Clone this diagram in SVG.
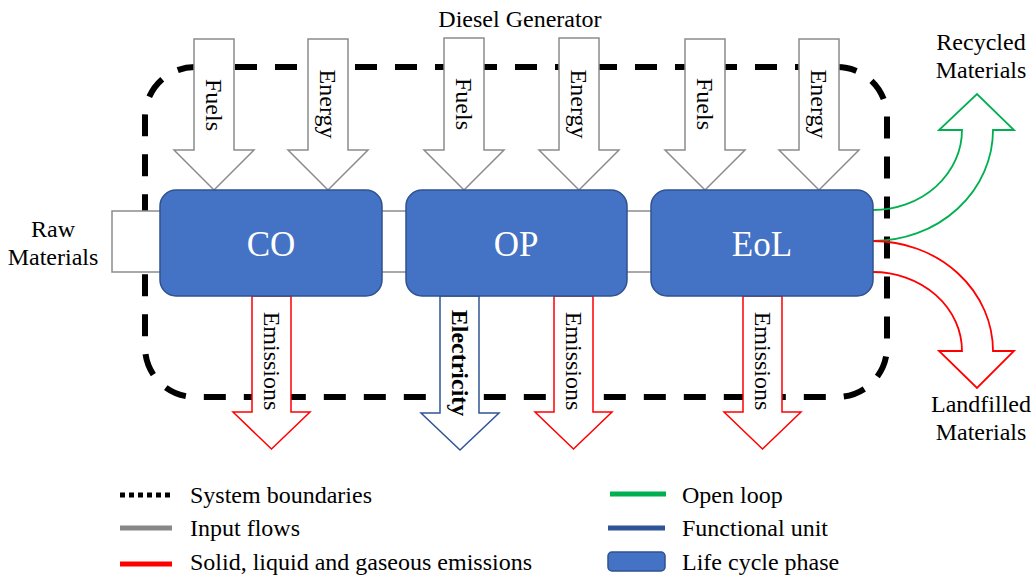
<svg xmlns="http://www.w3.org/2000/svg" width="1033" height="575" viewBox="0 0 1033 575">
<style>
text{font-family:'Liberation Serif','DejaVu Serif',serif;font-size:24px;fill:#000}
.gray{fill:#fff;stroke:#8C8C8C;stroke-width:1.5}
.red{fill:#fff;stroke:#FF0000;stroke-width:1.5}
.blue{fill:#fff;stroke:#2F5597;stroke-width:1.5}
.box{fill:#4472C4;stroke:#2F528F;stroke-width:1.5}
.lbl{fill:#fff;font-size:35px;text-anchor:middle}
.mid{text-anchor:middle}
</style>
<rect width="1033" height="575" fill="#fff"/>
<g id="boundary">
<rect x="145" y="67" width="742" height="330" rx="50" ry="50" fill="none" stroke="#000" stroke-width="6" stroke-dasharray="22 18"/>
</g>
<g id="connectors">
<rect class="gray" x="112" y="211" width="60" height="61"/>
<rect class="gray" x="370" y="211" width="50" height="61"/>
<rect class="gray" x="615" y="211" width="50" height="61"/>
<path class="gray" d="M194,39H234V150H254L214,190L174,150H194Z"/>
<path class="gray" d="M308,39H348V150H368L328,190L288,150H308Z"/>
<path class="gray" d="M444,38H484V150H504L464,190L424,150H444Z"/>
<path class="gray" d="M559,38H599V150H619L579,190L539,150H559Z"/>
<path class="gray" d="M685,39H725V150H745L705,190L665,150H685Z"/>
<path class="gray" d="M799,39H839V150H859L819,190L779,150H799Z"/>
<path class="red" d="M252,296H291V412H310L271.5,449L233,412H252Z"/>
<path class="blue" d="M440,296H479V413H499L460,450L421,413H440Z"/>
<path class="red" d="M554,296H593V412H612L573.5,449L535,412H554Z"/>
<path class="red" d="M743,296H782V412H801L762.5,449L724,412H743Z"/>
<path d="M873,210A89,80 0 0 0 962,130H939L977,94L1014,130H993A120,111 0 0 1 873,241" fill="none" stroke="#00B050" stroke-width="1.8"/>
<path d="M873,241A120,110 0 0 1 993,351H1014L977,388L939,351H962A89,79 0 0 0 873,272" fill="none" stroke="#FF0000" stroke-width="1.8"/>
<text transform="translate(206,105) rotate(90)" class="mid">Fuels</text>
<text transform="translate(320,104) rotate(90)" class="mid">Energy</text>
<text transform="translate(456,104) rotate(90)" class="mid">Fuels</text>
<text transform="translate(571,104) rotate(90)" class="mid">Energy</text>
<text transform="translate(697,104) rotate(90)" class="mid">Fuels</text>
<text transform="translate(811,104) rotate(90)" class="mid">Energy</text>
<text transform="translate(264,361) rotate(90)" class="mid">Emissions</text>
<text transform="translate(452,363) rotate(90)" class="mid" font-weight="bold">Electricity</text>
<text transform="translate(566,361) rotate(90)" class="mid">Emissions</text>
<text transform="translate(755,361) rotate(90)" class="mid">Emissions</text>
</g>
<g id="CO">
<rect class="box" x="160" y="190" width="222" height="106" rx="16" ry="16"/>
<text class="lbl" x="271" y="256">CO</text>
</g>
<g id="OP">
<rect class="box" x="406" y="190" width="221" height="106" rx="16" ry="16"/>
<text class="lbl" x="516" y="256">OP</text>
</g>
<g id="EoL">
<rect class="box" x="651" y="190" width="222" height="106" rx="16" ry="16"/>
<text class="lbl" x="762" y="256">EoL</text>
</g>
<g id="labels">
<text class="mid" x="520" y="27">Diesel Generator</text>
<text class="mid" x="53" y="237">Raw</text>
<text class="mid" x="53" y="265">Materials</text>
<text class="mid" x="981" y="50">Recycled</text>
<text class="mid" x="981" y="78">Materials</text>
<text class="mid" x="981" y="412">Landfilled</text>
<text class="mid" x="981" y="440">Materials</text>
</g>
<g id="legend">
<line x1="120" y1="495" x2="172" y2="495" stroke="#000" stroke-width="5" stroke-dasharray="5 4"/>
<text x="190" y="503">System boundaries</text>
<line x1="120" y1="528" x2="172" y2="528" stroke="#878787" stroke-width="5"/>
<text x="190" y="536">Input flows</text>
<line x1="120" y1="564" x2="172" y2="564" stroke="#FF0000" stroke-width="5"/>
<text x="190" y="570">Solid, liquid and gaseous emissions</text>
<line x1="610" y1="494" x2="666" y2="494" stroke="#00B050" stroke-width="5"/>
<text x="682" y="503">Open loop</text>
<line x1="608" y1="528" x2="665" y2="528" stroke="#2F5597" stroke-width="5"/>
<text x="682" y="536">Functional unit</text>
<rect class="box" x="608" y="552" width="57" height="19" rx="4" ry="4"/>
<text x="682" y="570">Life cycle phase</text>
</g>
</svg>
